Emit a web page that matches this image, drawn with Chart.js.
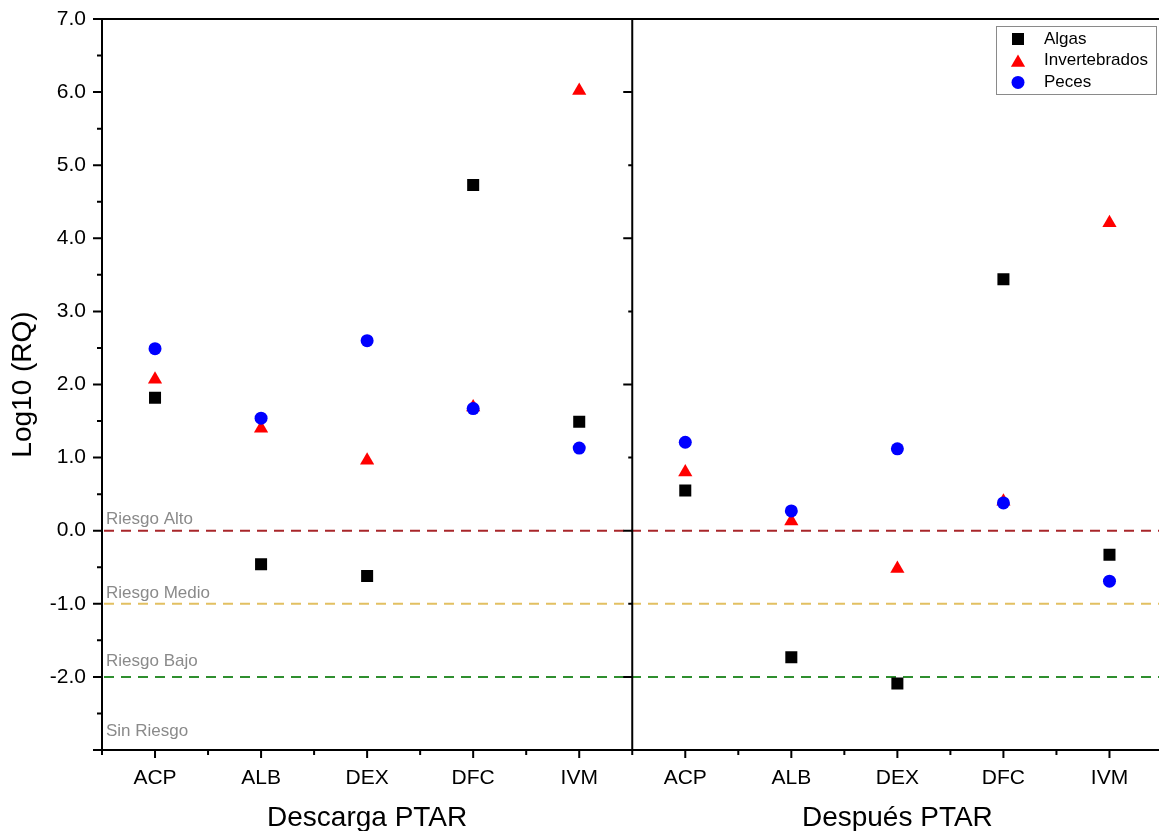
<!DOCTYPE html>
<html>
<head>
<meta charset="utf-8">
<title>Log10 (RQ)</title>
<script src="https://cdn.jsdelivr.net/npm/chart.js@4.4.0/dist/chart.umd.min.js"></script>
<style>
  html, body { margin: 0; padding: 0; background: #fff; overflow: hidden; }
  canvas { display: block; }
</style>
</head>
<body>
<canvas id="rqChart" width="1171" height="831"></canvas>
<script>
// compounds, first five = discharge, last five = after the plant
const categories = ['ACP', 'ALB', 'DEX', 'DFC', 'IVM', 'ACP', 'ALB', 'DEX', 'DFC', 'IVM'];
const groupTitles = ['Descarga PTAR', 'Después PTAR'];

// log10 of the risk quotient per trophic level
const algas = [1.82, -0.46, -0.62, 4.73, 1.49, 0.55, -1.73, -2.09, 3.44, -0.33];
const invertebrados = [2.07, 1.40, 0.96, 1.69, 6.02, 0.80, 0.13, -0.52, 0.40, 4.21];
const peces = [2.49, 1.54, 2.60, 1.67, 1.13, 1.21, 0.27, 1.12, 0.38, -0.69];

// risk thresholds and their captions
const riskLevels = [0, -1, -2];
const riskColors = ['#a8262a', '#e2c062', '#2f8f2f'];
const riskLabels = ['Riesgo Alto', 'Riesgo Medio', 'Riesgo Bajo', 'Sin Riesgo'];
const riskLabelAt = [0.15, -0.86, -1.79, -2.74];

const yMin = -3, yMax = 7;
const FONT = '"Liberation Sans", Arial, sans-serif';

const series = [
  { label: 'Algas', data: algas, pointStyle: 'rect', radius: 8.5, color: '#000000', order: 2 },
  { label: 'Invertebrados', data: invertebrados, pointStyle: 'triangle', radius: 8.2, color: '#ff0000', order: 1 },
  { label: 'Peces', data: peces, pointStyle: 'circle', radius: 6.5, color: '#0000ff', order: 0 }
];

// no extra room around the plot for end labels
const noPadding = s => {
  s.paddingTop = 0;
  s.paddingBottom = 0;
  s.paddingLeft = 0;
  s.paddingRight = 0;
};

const framePlugin = {
  id: 'frame',
  beforeDatasetsDraw(chart) {
    const { ctx, chartArea: a, scales: { x, y } } = chart;
    const half = (x.getPixelForValue(1) - x.getPixelForValue(0)) / 2;
    const divider = x.getPixelForValue(4) + half;
    ctx.save();

    // threshold lines
    ctx.lineWidth = 2;
    ctx.setLineDash([10, 7]);
    riskLevels.forEach((v, i) => {
      const py = y.getPixelForValue(v);
      ctx.strokeStyle = riskColors[i];
      ctx.beginPath();
      ctx.moveTo(a.left + 2, py);
      ctx.lineTo(a.right, py);
      ctx.stroke();
    });
    ctx.setLineDash([]);

    // threshold captions
    ctx.fillStyle = '#8a8a8a';
    ctx.font = '17px ' + FONT;
    ctx.textAlign = 'left';
    ctx.textBaseline = 'middle';
    riskLabels.forEach((t, i) => ctx.fillText(t, a.left + 4, y.getPixelForValue(riskLabelAt[i])));

    // axis lines and frame
    ctx.strokeStyle = '#000';
    ctx.lineWidth = 2;
    ctx.beginPath();
    ctx.moveTo(a.left, a.top);
    ctx.lineTo(a.right, a.top);
    ctx.moveTo(a.left, a.top - 1);
    ctx.lineTo(a.left, a.bottom);
    ctx.moveTo(a.left, a.bottom);
    ctx.lineTo(a.right, a.bottom);
    ctx.moveTo(divider, a.top);
    ctx.lineTo(divider, a.bottom);
    ctx.stroke();

    // y ticks, major every 1, minor every 0.5
    ctx.beginPath();
    for (let v = yMin; v <= yMax; v += 0.5) {
      const py = y.getPixelForValue(v);
      const len = Number.isInteger(v) ? 9 : 5;
      ctx.moveTo(a.left, py);
      ctx.lineTo(a.left - len, py);
    }
    // ticks on the divider
    for (let v = yMin + 1; v < yMax; v += 1) {
      const py = y.getPixelForValue(v);
      const len = v % 2 === 0 ? 9 : 4;
      ctx.moveTo(divider, py);
      ctx.lineTo(divider - len, py);
    }
    // x ticks, major at categories, minor between them
    categories.forEach((c, i) => {
      const px = x.getPixelForValue(i);
      ctx.moveTo(px, a.bottom);
      ctx.lineTo(px, a.bottom + 8);
      ctx.moveTo(px - half, a.bottom);
      ctx.lineTo(px - half, a.bottom + 5);
    });
    ctx.stroke();

    // axis titles
    ctx.fillStyle = '#000';
    ctx.font = '28px ' + FONT;
    ctx.textAlign = 'center';
    ctx.textBaseline = 'alphabetic';
    groupTitles.forEach((t, g) => {
      const cx = (x.getPixelForValue(g * 5) + x.getPixelForValue(g * 5 + 4)) / 2;
      ctx.fillText(t, cx, 826);
    });
    ctx.translate(31, (a.top + a.bottom) / 2);
    ctx.rotate(-Math.PI / 2);
    ctx.fillText('Log10 (RQ)', 0, 0);
    ctx.restore();
  },
  afterDraw(chart) {
    const { ctx } = chart;
    // legend box
    ctx.save();
    ctx.fillStyle = '#fff';
    ctx.fillRect(996, 26, 161, 69);
    ctx.strokeStyle = '#8a8a8a';
    ctx.lineWidth = 1;
    ctx.strokeRect(996.5, 26.5, 160, 68);
    ctx.font = '17px ' + FONT;
    ctx.textAlign = 'left';
    ctx.textBaseline = 'middle';
    series.forEach((s, i) => {
      const ly = 39 + i * 21.7;
      ctx.fillStyle = s.color;
      ctx.strokeStyle = s.color;
      Chart.helpers.drawPoint(ctx, {
        pointStyle: s.pointStyle, radius: s.radius, rotation: 0, borderWidth: 0
      }, 1018, s.pointStyle === 'triangle' ? ly + 2 : ly);
      ctx.fillStyle = '#000';
      ctx.fillText(s.label, 1044, ly);
    });
    ctx.restore();
  }
};

new Chart(document.getElementById('rqChart'), {
  type: 'line',
  data: {
    labels: categories,
    datasets: series.map(s => ({
      label: s.label,
      data: s.data,
      order: s.order,
      showLine: false,
      pointStyle: s.pointStyle,
      pointRadius: s.radius,
      pointBackgroundColor: s.color,
      pointBorderColor: s.color,
      pointBorderWidth: 0
    }))
  },
  options: {
    responsive: false,
    animation: false,
    events: [],
    layout: { padding: { top: 19, left: 0, right: 0, bottom: 0 } },
    plugins: {
      legend: { display: false },
      tooltip: { enabled: false }
    },
    scales: {
      x: {
        type: 'category',
        offset: true,
        grid: { display: false, drawTicks: false },
        border: { display: false },
        ticks: {
          color: '#000',
          padding: 16,
          maxRotation: 0,
          autoSkip: false,
          font: { family: FONT, size: 21 }
        },
        afterFit: s => { s.height = 81; noPadding(s); }
      },
      y: {
        min: yMin,
        max: yMax,
        grid: { display: false, drawTicks: false },
        border: { display: false },
        ticks: {
          stepSize: 1,
          color: '#000',
          padding: 16,
          font: { family: FONT, size: 21 },
          callback: v => (v === yMin ? '' : v.toFixed(1))
        },
        afterFit: s => { s.width = 102; noPadding(s); }
      }
    }
  },
  plugins: [framePlugin]
});
</script>
</body>
</html>
